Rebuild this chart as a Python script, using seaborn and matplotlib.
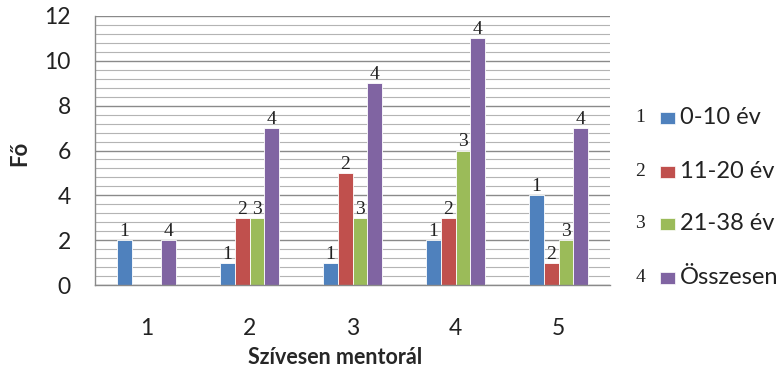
import matplotlib
matplotlib.use("Agg")
import matplotlib.pyplot as plt
from matplotlib.patches import Rectangle
from matplotlib.ticker import MultipleLocator, FixedLocator
import seaborn as sns
import pandas as pd

categories = ["1", "2", "3", "4", "5"]
series = ["0-10 év", "11-20 év", "21-38 év", "Összesen"]
series_numbers = ["1", "2", "3", "4"]
v_0_10 = [2, 1, 1, 2, 4]
v_11_20 = [0, 3, 5, 3, 1]
v_21_38 = [0, 3, 3, 6, 2]
v_total = [2, 7, 9, 11, 7]
colors = ["#4F81BD", "#C0504D", "#9BBB59", "#8064A2"]

values = [v_0_10, v_11_20, v_21_38, v_total]
rows = []
for s, vals in zip(series, values):
    for c, v in zip(categories, vals):
        rows.append({"cat": c, "val": v, "series": s})
df = pd.DataFrame(rows)

sns.set_style("white")
plt.rcParams["font.family"] = ["Lato", "DejaVu Sans"]

fig = plt.figure(figsize=(7.82, 3.69), dpi=100)
ax = fig.add_axes([95 / 782, 1 - 285 / 369, (610 - 95) / 782, (285 - 16) / 369])

sns.barplot(data=df, x="cat", y="val", hue="series", order=categories,
            hue_order=series, palette=colors, width=0.58, saturation=1,
            edgecolor="white", linewidth=0.6, ax=ax, legend=False)

for cont, num in zip(ax.containers, series_numbers):
    for bar in cont:
        h = bar.get_height()
        if h > 0:
            ax.text(bar.get_x() + bar.get_width() / 2, h, num, ha="center",
                    va="bottom", fontsize=14, family="Liberation Serif",
                    color="#222222")

ax.set_xlim(-0.5, 4.5)
ax.set_ylim(0, 12)
ax.yaxis.set_major_locator(MultipleLocator(2))
ax.yaxis.set_minor_locator(MultipleLocator(0.4))
ax.grid(which="major", axis="y", color="#8a8a8a", linewidth=1.0)
ax.grid(which="minor", axis="y", color="#b4b4b4", linewidth=0.8)
ax.set_axisbelow(True)
ax.xaxis.set_minor_locator(FixedLocator([0.5, 1.5, 2.5, 3.5]))

for s in ["top", "right"]:
    ax.spines[s].set_visible(False)
for s in ["left", "bottom"]:
    ax.spines[s].set_color("#8a8a8a")
    ax.spines[s].set_linewidth(1.0)

ax.tick_params(axis="y", which="major", length=6.5, width=1.0, color="#8a8a8a",
               labelsize=16.5, pad=11, labelcolor="#222222")
ax.tick_params(axis="y", which="minor", length=0)
ax.tick_params(axis="x", which="major", length=0, labelsize=16.5, pad=24,
               labelcolor="#222222")
ax.tick_params(axis="x", which="minor", length=6.5, width=1.0, color="#8a8a8a")

ax.set_xlabel("Szívesen mentorál", fontsize=15.5, fontweight="bold", va="center")
ax.set_ylabel("Fő", fontsize=16, fontweight="bold", va="center")
ax.xaxis.set_label_coords((335 - 95) / 515, (285 - 357) / 269)
ax.yaxis.set_label_coords((20 - 95) / 515, (285 - 153) / 269)

# legend
leg_y = [118, 172, 224, 278]
for num, lab, col, y in zip(series_numbers, series, colors, leg_y):
    fy = 1 - y / 369
    fig.text(640 / 782, fy, num, ha="center", va="center", fontsize=14,
             family="Liberation Serif", color="#222222")
    fig.patches.append(Rectangle((660 / 782, fy - 6 / 369), 15 / 782, 12 / 369,
                                 transform=fig.transFigure, facecolor=col,
                                 edgecolor="white", linewidth=0.5))
    fig.text(680 / 782, fy, lab, ha="left", va="center", fontsize=17,
             color="#222222")

fig.savefig("out.png", dpi=100)
